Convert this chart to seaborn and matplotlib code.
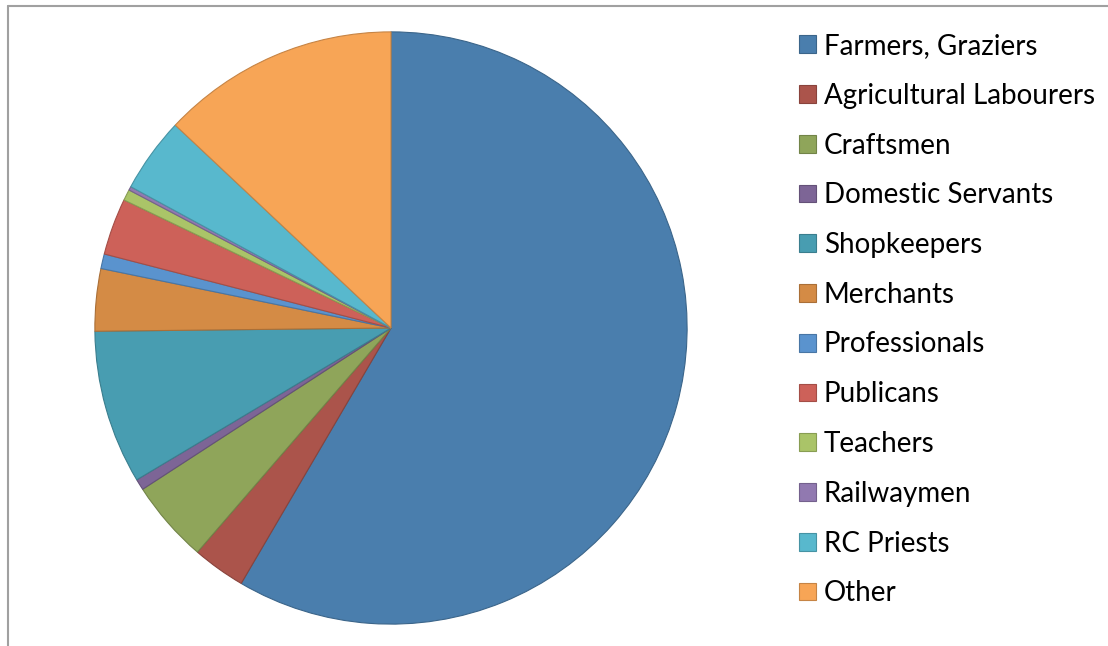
import matplotlib
matplotlib.use("Agg")
import matplotlib.pyplot as plt
import matplotlib.colors as mcolors
from matplotlib.lines import Line2D
import seaborn as sns

# Occupations and their share of the total (%)
occupations = [
    "Farmers, Graziers", "Agricultural Labourers", "Craftsmen", "Domestic Servants",
    "Shopkeepers", "Merchants", "Professionals", "Publicans", "Teachers",
    "Railwaymen", "RC Priests", "Other",
]
shares = [58.5, 2.9, 4.5, 0.6, 8.4, 3.4, 0.8, 3.1, 0.6, 0.2, 4.1, 13.0]
slice_colors = [
    "#4A7EAD", "#AB544B", "#8FA55A", "#7D6596", "#489DB1", "#D48B45",
    "#5A93CE", "#CD6159", "#AAC468", "#9179B0", "#58B8CD", "#F7A556",
]

sns.set_theme(style="white")
plt.rcParams["font.family"] = ["Lato", "DejaVu Sans"]

W, H = 1108, 646
fig = plt.figure(figsize=(W / 100, H / 100), dpi=100)

# Pie axes: centre (391, 328) px, radius 297 px
cx, cy, r = 391, 328, 297
ax = fig.add_axes([(cx - r) / W, (H - cy - r) / H, 2 * r / W, 2 * r / H])
wedges, _ = ax.pie(
    shares, colors=slice_colors, startangle=90, counterclock=False, radius=1.0,
    wedgeprops=dict(linewidth=0.8),
)
for w, c in zip(wedges, slice_colors):
    rgb = mcolors.to_rgb(c)
    w.set_edgecolor(tuple(v * 0.8 for v in rgb))
ax.set_xlim(-1.003, 1.003)
ax.set_ylim(-1.003, 1.003)
ax.set_aspect("equal")
ax.axis("off")

# Legend to the right of the pie
leg = fig.legend(
    wedges, occupations, loc="upper left",
    bbox_to_anchor=(799 / W, 1 - 33 / H), frameon=False,
    fontsize=20, handlelength=0.6, handleheight=0.6,
    handletextpad=0.3, labelspacing=0.855, borderpad=0, borderaxespad=0,
    labelcolor="black",
)

# Thin grey frame lines along the top and left edges
fig.add_artist(Line2D([7.5 / W, 7.5 / W], [0, 1 - 5.5 / H], color="#A0A0A0",
                      linewidth=1.5, transform=fig.transFigure))
fig.add_artist(Line2D([7.5 / W, 1], [1 - 5.5 / H, 1 - 5.5 / H], color="#A0A0A0",
                      linewidth=1.5, transform=fig.transFigure))

fig.savefig("out.png", dpi=100)
